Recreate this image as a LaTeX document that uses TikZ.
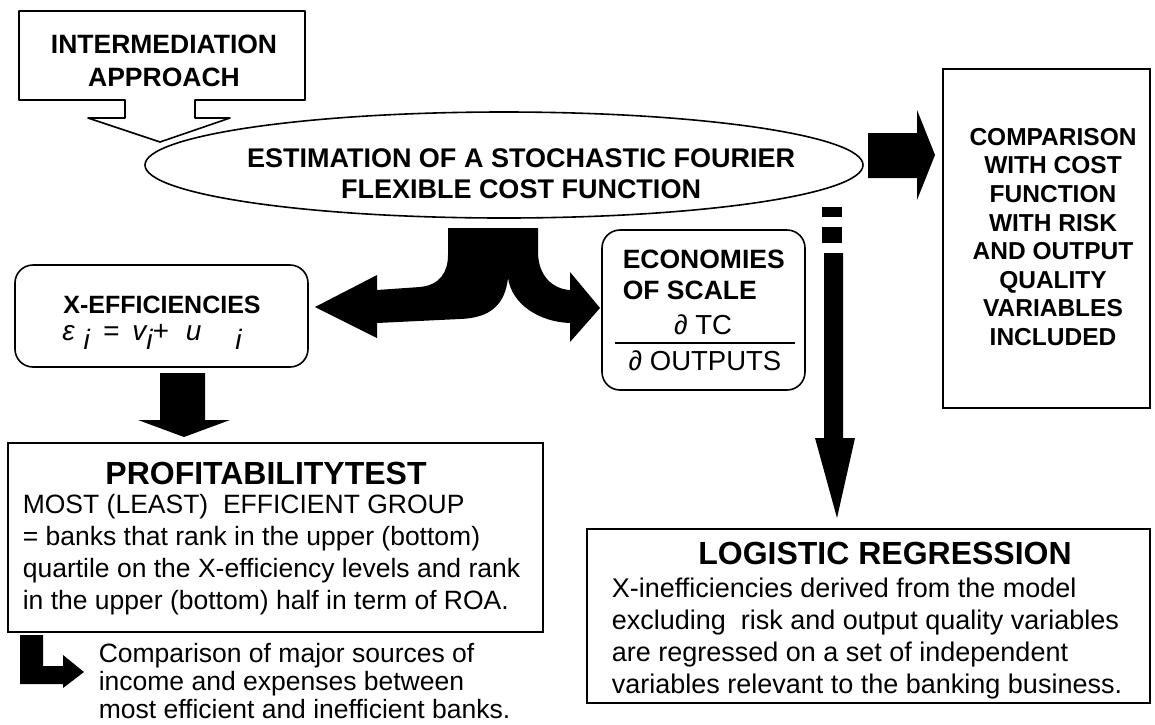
\documentclass[tikz,border=0pt]{standalone}
\usepackage{fontspec}
\setmainfont{Liberation Sans}
\usetikzlibrary{shapes.geometric}

\newcommand{\lowi}{\raisebox{-9pt}[0pt][0pt]{i}}

\begin{document}
\begin{tikzpicture}
[x=1pt, y=-1pt, line width=1.6pt, plain box/.style={draw, inner sep=0pt}, round box/.style={draw, rounded corners=18pt, inner sep=0pt}, head text/.style={font=\bfseries\fontsize{26.5}{33}\selectfont, align=center, inner sep=0pt}, body text/.style={font=\fontsize{26.5}{32}\selectfont, align=left, inner sep=0pt}, big head/.style={font=\bfseries\fontsize{32}{38}\selectfont, inner sep=0pt}, block arrow/.style={fill=black}]
    \useasboundingbox (0,0) rectangle (1155,724);
    \coordinate (intertip) at (160,142);
    \draw[line join=round] (19,11) -- (305,11) -- (305,100) -- (195,100) -- (195,118) -- (230,118) -- (intertip) -- (88,118) -- (125,118) -- (125,100) -- (19,100) -- cycle;
    \node[head text] (inter) at (164,60.5) {INTERMEDIATION\\APPROACH};
    \node[draw, ellipse, minimum width=718pt, minimum height=106pt, inner sep=0pt] (est) at (504,165) {};
    \node[head text, font=\bfseries\fontsize{27}{31}\selectfont] (esttext) at (521,173.5) {ESTIMATION OF A STOCHASTIC FOURIER\\FLEXIBLE COST FUNCTION};
    \node[round box, minimum width=293pt, minimum height=102pt] (xeff) at (161.5,316) {};
    \node[head text, font=\bfseries\fontsize{25}{28}\selectfont] (xefftitle) at (162,305) {X-EFFICIENCIES};
    \node[body text, font=\itshape\fontsize{28}{28}\selectfont, anchor=base] (xeffeq) at (152,340) {ε\hspace{9pt}\lowi\hspace{13pt}=\hspace{13pt}v\lowi+\hspace{17pt}u\hspace{34pt}\lowi};
    \node[round box, minimum width=203pt, minimum height=160pt] (econ) at (703.5,310) {};
    \node[head text, align=left, font=\bfseries\fontsize{26.5}{31}\selectfont, anchor=north west] (econtitle) at (622,249) {ECONOMIES\\OF SCALE};
    \node[body text, font=\fontsize{27.5}{32}\selectfont] (dtc) at (703,325) {∂ TC};
    \node[body text, font=\fontsize{27.5}{32}\selectfont] (dout) at (705,361) {∂ OUTPUTS};
    \draw (615,343) -- (795,343);
    \node[plain box, minimum width=207pt, minimum height=339pt] (comp) at (1046.5,238.5) {};
    \node[head text, font=\bfseries\fontsize{24.5}{28.6}\selectfont] (comptext) at (1053,237) {COMPARISON\\WITH COST\\FUNCTION\\WITH RISK\\AND OUTPUT\\QUALITY\\VARIABLES\\INCLUDED};
    \node[plain box, minimum width=535pt, minimum height=189pt] (profit) at (275.5,537.5) {};
    \node[big head] (profithead) at (266,473) {PROFITABILITYTEST};
    \node[body text, anchor=north west] (profittext) at (22,493) {MOST (LEAST)\ \ EFFICIENT GROUP\\= banks that rank in the upper (bottom)\\quartile on the X-efficiency levels and rank\\in the upper (bottom) half in term of ROA.};
    \node[plain box, minimum width=563pt, minimum height=174pt] (logit) at (868.5,616) {};
    \node[big head] (logithead) at (885,553) {LOGISTIC REGRESSION};
    \node[body text, font=\fontsize{27}{32}\selectfont, anchor=north west] (logittext) at (611,577) {X-inefficiencies derived from the model\\excluding\ \ risk and output quality variables\\are regressed on a set of independent\\variables relevant to the banking business.};
    \node[body text, font=\fontsize{26.5}{28}\selectfont, anchor=north west] (sources) at (98,642) {Comparison of major sources of\\income and expenses between\\most efficient and inefficient banks.};
    \fill[block arrow] (448,228) -- (538,228) -- (538,252) .. controls (538,275) and (552,289) .. (570,290) -- (570,272) -- (600,308) -- (570,342) -- (570,323) .. controls (540,322) and (512,305) .. (508,278) .. controls (505,305) and (490,318) .. (460,319) -- (377,323) -- (377,338) -- (315,307) -- (377,275) -- (377,290) -- (420,287) .. controls (440,285) and (448,272) .. (448,255) -- cycle;
    \fill[block arrow] (868,133) -- (917,133) -- (917,110) -- (935,155) -- (917,200) -- (917,178) -- (868,178) -- cycle;
    \fill[block arrow] (160,373) -- (205,373) -- (205,420) -- (230,420) -- (184,437) -- (138,420) -- (160,420) -- cycle;
    \fill[block arrow] (822,207) rectangle (842,217);
    \fill[block arrow] (822,227) rectangle (842,243);
    \fill[block arrow] (824,253) -- (843,253) -- (843,438) -- (855,438) -- (837,518) -- (815,438) -- (824,438) -- cycle;
    \fill[block arrow] (20,635) -- (43,635) -- (43,666) -- (63,666) -- (63,655) -- (84,672) -- (63,688) -- (63,684) -- (20,684) -- cycle;
\end{tikzpicture}
\end{document}
